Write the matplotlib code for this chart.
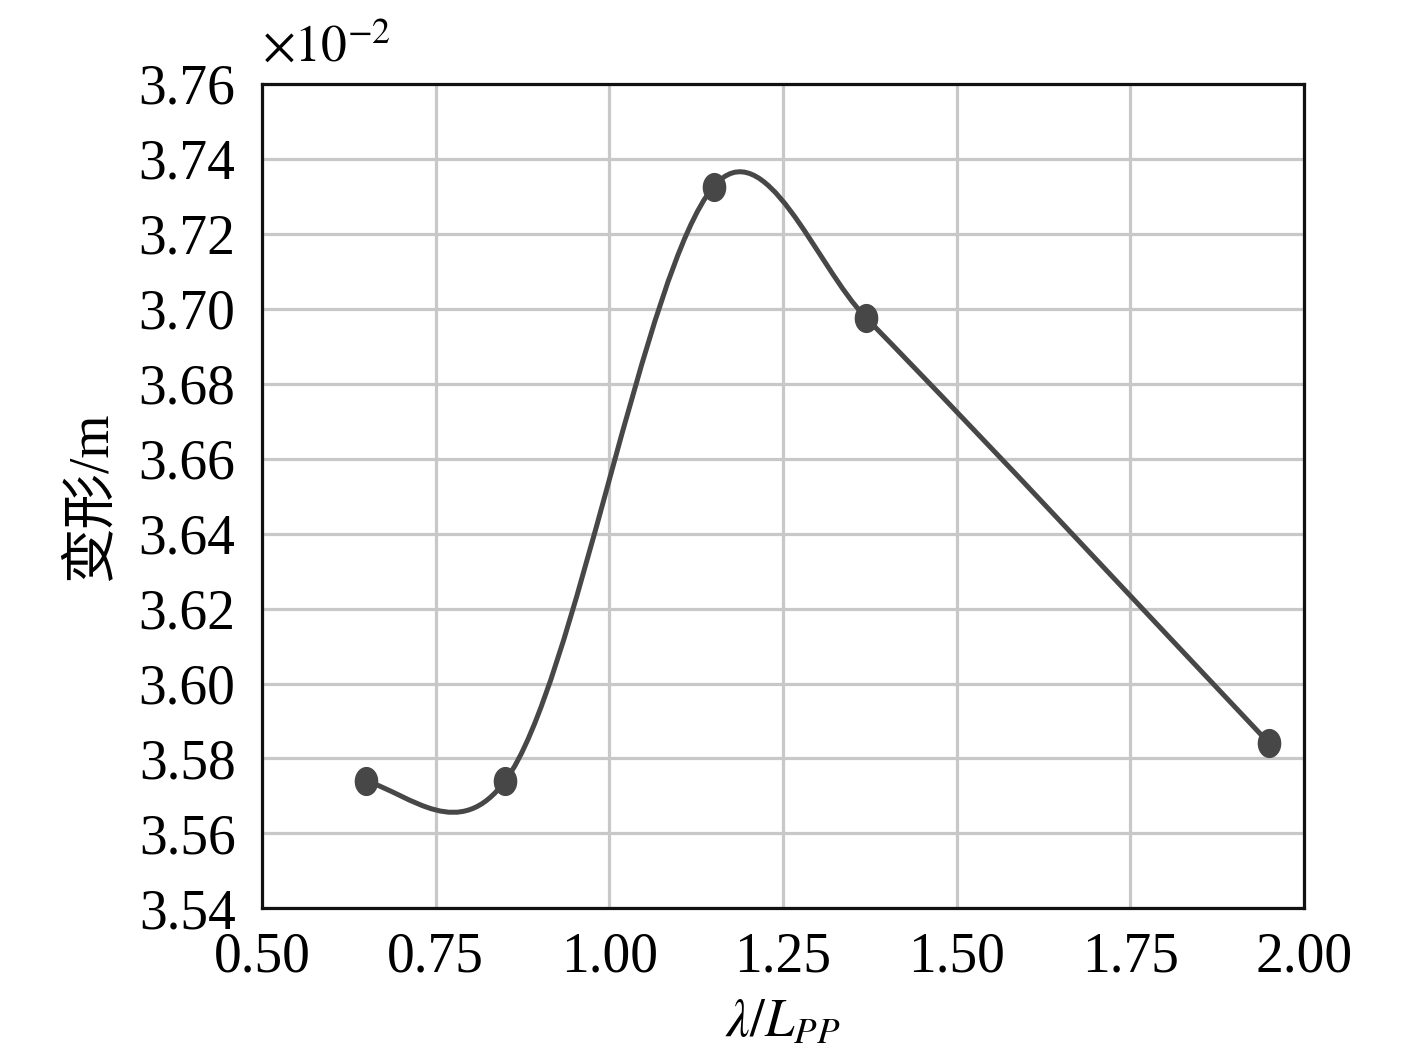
import numpy as np
import matplotlib
matplotlib.use("Agg")
import matplotlib.pyplot as plt
from matplotlib.path import Path
from matplotlib.patches import PathPatch

plt.rcParams["font.family"] = ["Liberation Serif", "Noto Sans CJK SC"]
plt.rcParams["mathtext.fontset"] = "stix"

# data (deformation in units of 1e-2 m)
ratio = np.array([0.65, 0.85, 1.15, 1.37, 1.95])
deform = np.array([3.574, 3.574, 3.7326, 3.6975, 3.584])
# slope of the smoothed curve at each point
slopes = np.array([-0.06, 0.25, 0.22, -0.19, -0.196])

x_ticks = [0.50, 0.75, 1.00, 1.25, 1.50, 1.75, 2.00]
y_ticks = [3.54, 3.56, 3.58, 3.60, 3.62, 3.64, 3.66, 3.68, 3.70, 3.72, 3.74, 3.76]

line_color = "#474747"


def hermite_path(x, y, d):
    # cubic hermite segments as bezier curves
    verts = [(x[0], y[0])]
    codes = [Path.MOVETO]
    for i in range(len(x) - 1):
        h = x[i + 1] - x[i]
        verts += [(x[i] + h / 3, y[i] + h * d[i] / 3),
                  (x[i + 1] - h / 3, y[i + 1] - h * d[i + 1] / 3),
                  (x[i + 1], y[i + 1])]
        codes += [Path.CURVE4] * 3
    return Path(verts, codes)


fig = plt.figure(figsize=(14.17, 10.63), dpi=100)
ax = fig.add_axes([0.1849, 0.1455, 0.7354, 0.7755])

ax.add_patch(PathPatch(hermite_path(ratio, deform, slopes), fill=False,
                       edgecolor=line_color, lw=3.6, zorder=3,
                       capstyle="round", joinstyle="round"))

t = np.linspace(0, 2 * np.pi, 40)
ellipse = Path(np.column_stack([0.8 * np.cos(t), np.sin(t)]), closed=True)
ax.plot(ratio, deform, ls="none", marker=ellipse, ms=20,
        color=line_color, zorder=4)

ax.set_xlim(0.5, 2.0)
ax.set_ylim(3.54, 3.76)
ax.set_xticks(x_ticks)
ax.set_yticks(y_ticks)
ax.set_xticklabels([f"{v:.2f}" for v in x_ticks])
ax.set_yticklabels([f"{v:.2f}" for v in y_ticks])
ax.tick_params(length=0, labelsize=40)
ax.tick_params(axis="y", pad=19)
ax.tick_params(axis="x", pad=17)
ax.grid(True, color="#c8c8c8", lw=2.3)
ax.set_axisbelow(True)
for sp in ax.spines.values():
    sp.set_linewidth(2.3)
    sp.set_color("#111111")

ax.set_xlabel(r"$\lambda/L_{PP}$", fontsize=38, labelpad=11)
ax.set_ylabel("变形/m", fontsize=40, labelpad=15)
ax.text(0.0, 1.014, r"$\times10^{-2}$", transform=ax.transAxes,
        fontsize=37, ha="left", va="bottom")

fig.savefig("out.png", dpi=100)
